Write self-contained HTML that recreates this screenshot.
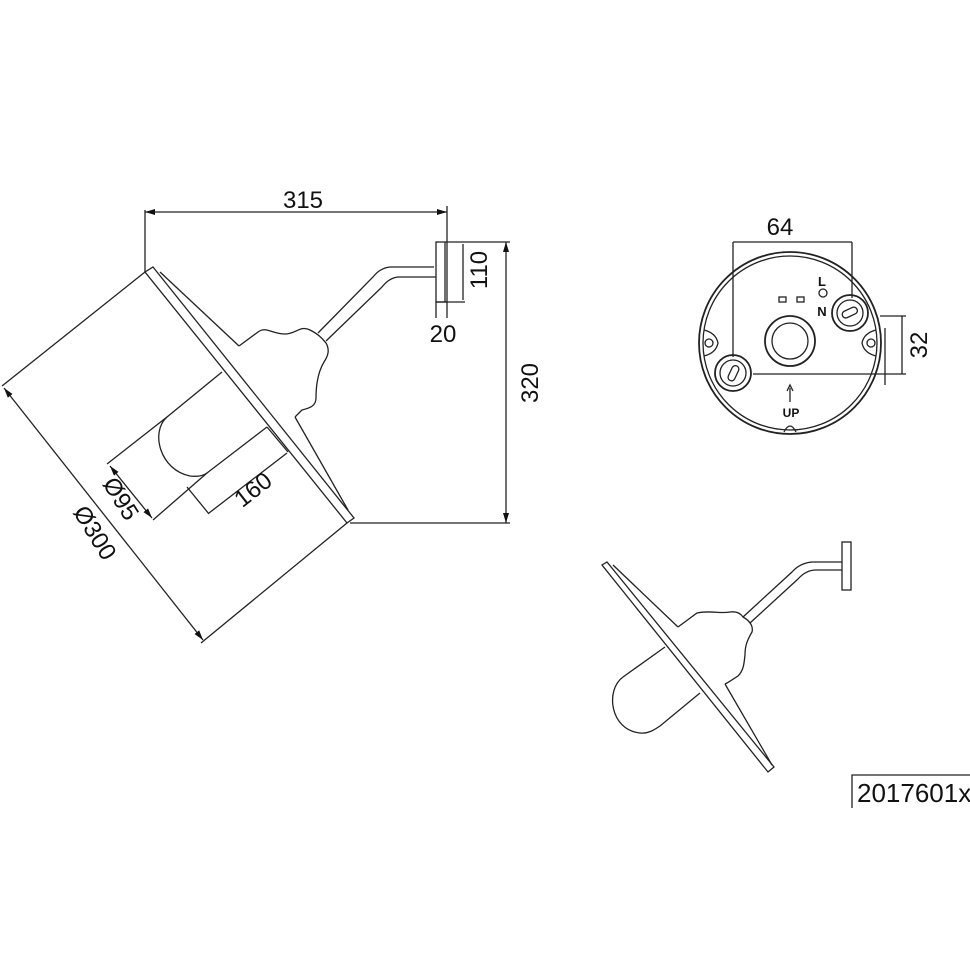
<!DOCTYPE html>
<html><head><meta charset="utf-8"><style>
html,body{margin:0;padding:0;background:#fff;}
svg{display:block;}
text{font-family:"Liberation Sans",Arial,sans-serif;fill:#111;}
</style></head><body>
<svg width="970" height="971" viewBox="0 0 970 971" xmlns="http://www.w3.org/2000/svg">
<defs>
<marker id="ar" viewBox="0 0 10 6" refX="10" refY="3" markerWidth="10" markerHeight="6" orient="auto-start-reverse" markerUnits="userSpaceOnUse">
<path d="M0,0 L10,3 L0,6 z" fill="#111"/></marker>
</defs>
<g fill="none" stroke="#222" stroke-width="1.3">
<polygon points="153,267 354,518 347,523 145,272"/>
<line x1="160" y1="272" x2="239" y2="346"/>
<line x1="295" y1="417" x2="348" y2="510"/>
<path d="M239,346 L258,332 C266,326 272,334 285,334 C296,334 300,325 310,330 C318,334 322,338 326,343 C330,350 328,356 324,362 C318,372 316,385 316,398 C316,406 310,408 302,410 L295,417"/>
<path d="M318,333 L373,277 Q380,268 390,267 L434,267"/>
<path d="M326,341 L382,287 Q389,278 398,277 L436,277"/>
<rect x="436" y="242" width="11" height="60"/>
<line x1="445" y1="242" x2="445" y2="302"/>
<path d="M222,372 L167,417 C150,432 160,470 190,476 C198,477 203,476 207,473 L267,427"/>
<line x1="145" y1="272" x2="145" y2="210"/>
<line x1="447" y1="242" x2="447" y2="206"/>
<line x1="145" y1="212" x2="447" y2="212" marker-start="url(#ar)" marker-end="url(#ar)"/>
<line x1="447" y1="242" x2="510" y2="242"/>
<line x1="436" y1="302" x2="465" y2="302"/>
<line x1="436" y1="302" x2="436" y2="318"/>
<line x1="447" y1="302" x2="447" y2="318"/>
<line x1="463" y1="244" x2="463" y2="300"/>
<line x1="506" y1="242" x2="506" y2="523" marker-start="url(#ar)" marker-end="url(#ar)"/>
<line x1="350" y1="523" x2="510" y2="523"/>
<line x1="145" y1="272" x2="2" y2="386"/>
<line x1="347" y1="523" x2="201" y2="643"/>
<line x1="4" y1="388" x2="203" y2="640" marker-start="url(#ar)" marker-end="url(#ar)"/>
<line x1="167" y1="417" x2="107" y2="464"/>
<line x1="207" y1="473" x2="153" y2="520"/>
<line x1="110" y1="466" x2="152" y2="518" marker-start="url(#ar)" marker-end="url(#ar)"/>
<line x1="267" y1="427" x2="288" y2="452"/>
<line x1="187" y1="487" x2="209" y2="514"/>
<line x1="209" y1="513" x2="287" y2="453"/>
<circle cx="790" cy="343" r="91" stroke-width="1.8"/>
<circle cx="790" cy="343" r="87"/>
<path d="M704,330 Q716,333 718,343 Q716,353 704,356"/>
<circle cx="709" cy="343" r="4"/>
<path d="M876,330 Q864,333 862,343 Q864,353 876,356"/>
<circle cx="871" cy="343" r="4"/>
<circle cx="850" cy="313" r="18" stroke-width="1.8"/>
<circle cx="850" cy="313" r="13"/>
<rect x="842" y="309" width="16" height="7" rx="3.5" transform="rotate(-25 850 313)"/>
<circle cx="733" cy="373" r="18" stroke-width="1.8"/>
<circle cx="733" cy="373" r="13"/>
<rect x="730" y="365" width="7" height="16" rx="3.5" transform="rotate(25 733 373)"/>
<circle cx="790" cy="341" r="25" stroke-width="1.8"/>
<circle cx="790" cy="341" r="18"/>
<rect x="779" y="297" width="7" height="5"/>
<rect x="797" y="297" width="7" height="5"/>
<circle cx="823" cy="293" r="4"/>
<path d="M784,432 Q790,420 796,432"/>
<line x1="790" y1="402" x2="790" y2="388"/>
<path d="M787,391 L790,385 L793,391"/>
<line x1="733" y1="242" x2="852" y2="242"/>
<line x1="733" y1="242" x2="733" y2="357"/>
<line x1="852" y1="242" x2="852" y2="298"/>
<line x1="880" y1="316" x2="906" y2="316"/>
<line x1="753" y1="374" x2="906" y2="374"/>
<line x1="902" y1="316" x2="902" y2="374"/>
<line x1="885" y1="328" x2="885" y2="385"/>
<polygon points="602,565 607,562 774,767 768,772"/>
<line x1="613" y1="565" x2="678" y2="627"/>
<line x1="725" y1="684" x2="772" y2="765"/>
<path d="M678,627 L697,613 C710,610 720,614 730,612 C737,611 741,614 743,617 C752,622 753,628 752,632 C746,642 745,648 745,655 C744,663 744,670 738,676 L727,683 L725,684"/>
<path d="M743,617 L792,572 Q800,563 812,562 L842,562"/>
<path d="M750,623 L798,579 Q806,570 816,570 L842,570"/>
<rect x="842" y="542" width="9" height="48"/>
<path d="M665,647 L623,677 C605,690 610,730 640,733 C648,734 654,730 660,726 L700,693"/>
<path d="M852,808 L852,775 L970,775"/>
</g>
<text x="303" y="208" font-size="24" text-anchor="middle">315</text>
<text x="443" y="342" font-size="24" text-anchor="middle">20</text>
<text transform="translate(487,270) rotate(-90)" font-size="24" text-anchor="middle">110</text>
<text transform="translate(538,383) rotate(-90)" font-size="24" text-anchor="middle">320</text>
<text transform="translate(88,537) rotate(58)" font-size="24" text-anchor="middle">Ø300</text>
<text transform="translate(114,503) rotate(58)" font-size="24" text-anchor="middle">Ø95</text>
<text transform="translate(258,496) rotate(-38)" font-size="24" text-anchor="middle">160</text>
<text x="780" y="235" font-size="24" text-anchor="middle">64</text>
<text transform="translate(927,345) rotate(-90)" font-size="24" text-anchor="middle">32</text>
<text x="822" y="286" font-size="13" font-weight="bold" text-anchor="middle">L</text>
<text x="822" y="316" font-size="13" font-weight="bold" text-anchor="middle">N</text>
<text x="791" y="417" font-size="12" font-weight="bold" text-anchor="middle">UP</text>
<text x="857" y="802" font-size="26">2017601x</text>
</svg>
</body></html>
